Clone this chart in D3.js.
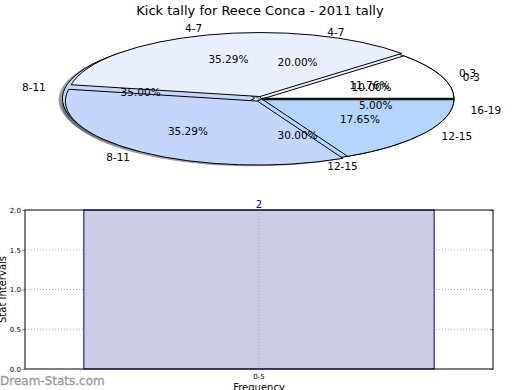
<!DOCTYPE html>
<html>
<head>
<meta charset="utf-8">
<script src="https://cdn.jsdelivr.net/npm/d3@7/dist/d3.min.js"></script>
<style>
  body { margin: 0; background: #fff; }
  text { font-family: "DejaVu Sans", sans-serif; }
</style>
</head>
<body>
<svg id="chart" width="520" height="390"></svg>
<script>
// Kick tally, two pies drawn on top of each other + a one-bar histogram

const chartTitle = "Kick tally for Reece Conca - 2011 tally"

// first pie (drawn on top)
const topLabels = ["0-3", "4-7", "8-11", "12-15"]
const topValues = [11.76, 35.29, 35.29, 17.65]

// second pie (drawn underneath)
const underLabels = ["0-3", "4-7", "8-11", "12-15", "16-19"]
const underValues = [10.00, 20.00, 35.00, 30.00, 5.00]

// histogram
const barCategories = ["0-5"]
const barValues = [2]
const yTicks = [0, 0.5, 1.0, 1.5, 2.0]

const svg = d3.select("#chart")

// ── Pie ──────────────────────────────────────────────
const cx = 262, cy = 99, rx = 192, ry = 64
const explodeBy = 0.04

const sliceColor = d3.scaleOrdinal()
  .domain(["0-3", "4-7", "8-11", "12-15", "16-19"])
  .range(["#ffffff", "#e9effd", "#c5d6fb", "#b4d5fd", "#b4d5fd"])

// matplotlib style : counter-clockwise, starting at 3 o'clock
const pie = d3.pie().sort(null)
  .startAngle(Math.PI / 2)
  .endAngle(Math.PI / 2 - 2 * Math.PI)

const arc = d3.arc().innerRadius(0).outerRadius(rx)

function layout(labels, values, exploded) {
  return pie(values).map((a, i) => {
    const mid = Math.PI / 2 - (a.startAngle + a.endAngle) / 2
    const ex = exploded.includes(labels[i]) ? explodeBy : 0
    return Object.assign(a, {
      label: labels[i],
      mid,
      ex,
      ox: ex * rx * Math.cos(mid),
      oy: -ex * ry * Math.sin(mid)
    })
  })
}

const underArcs = layout(underLabels, underValues, ["8-11"])
const topArcs = layout(topLabels, topValues, ["4-7", "8-11"])

const pieG = svg.append("g")

function wedges(arcs, cls, shadow) {
  const g = pieG.append("g")
    .attr("transform", `translate(${cx + (shadow ? -0.02 * rx : 0)},${cy + (shadow ? 0.02 * ry : 0)}) scale(1,${ry / rx})`)
  g.selectAll("path." + cls).data(arcs).join("path")
    .attr("class", cls)
    .attr("d", arc)
    .attr("transform", d => `translate(${d.ex * rx * Math.cos(d.mid)},${-d.ex * rx * Math.sin(d.mid)})`)
    .attr("fill", d => shadow ? d3.color(sliceColor(d.label)).darker(3.5) : sliceColor(d.label))
    .attr("fill-opacity", shadow ? 0.5 : 1)
    .attr("stroke", shadow ? "none" : "#000")
    .attr("stroke-width", 1)
    .attr("vector-effect", "non-scaling-stroke")
}

// shadows sit under every wedge of both pies
wedges(underArcs, "sh-under", true)
wedges(topArcs, "sh-top", true)
wedges(underArcs, "w-under", false)
wedges(topArcs, "w-top", false)

// the start edge (3 o'clock) where both pies' edges pile up
pieG.append("line")
  .attr("x1", cx).attr("y1", cy)
  .attr("x2", cx + rx).attr("y2", cy)
  .attr("stroke", "#111").attr("stroke-width", 2.5)

function labels(arcs) {
  pieG.append("g").selectAll("text").data(arcs).join("text")
    .attr("x", d => cx + d.ox + 1.1 * rx * Math.cos(d.mid))
    .attr("y", d => cy + d.oy - 1.1 * ry * Math.sin(d.mid))
    .attr("dy", "0.35em")
    .attr("text-anchor", d => Math.cos(d.mid) > 0 ? "start" : "end")
    .attr("font-size", 10.5)
    .text(d => d.label)

  pieG.append("g").selectAll("text").data(arcs).join("text")
    .attr("x", d => cx + d.ox + 0.6 * rx * Math.cos(d.mid))
    .attr("y", d => cy + d.oy - 0.6 * ry * Math.sin(d.mid))
    .attr("dy", "0.35em")
    .attr("text-anchor", "middle")
    .attr("font-size", 10.5)
    .text(d => d3.format(".2f")(d.value) + "%")
}
labels(underArcs)
labels(topArcs)

svg.append("text")
  .attr("x", 260).attr("y", 15)
  .attr("text-anchor", "middle")
  .attr("font-size", 13)
  .text(chartTitle)

// ── Histogram ────────────────────────────────────────
const left = 25, right = 493, plotTop = 210, bottom = 369

const x = d3.scaleBand().domain(barCategories)
  .range([left, right]).paddingInner(0).paddingOuter(0.168)
const y = d3.scaleLinear().domain([0, 2]).range([bottom, plotTop])

const hist = svg.append("g")

// grid
hist.selectAll("line.hgrid").data(yTicks.slice(1, -1)).join("line")
  .attr("x1", left).attr("x2", right)
  .attr("y1", d => y(d)).attr("y2", d => y(d))
  .attr("stroke", "#aaa").attr("stroke-width", 1)
  .attr("stroke-dasharray", "1,2")

hist.selectAll("rect.bar").data(barValues).join("rect")
  .attr("x", (d, i) => x(barCategories[i]))
  .attr("width", x.bandwidth())
  .attr("y", d => y(d))
  .attr("height", d => bottom - y(d))
  .attr("fill", "#ccccE5")
  .attr("stroke", "#000080")
  .attr("stroke-width", 1)

hist.selectAll("line.vgrid").data(barCategories).join("line")
  .attr("x1", d => x(d) + x.bandwidth() / 2).attr("x2", d => x(d) + x.bandwidth() / 2)
  .attr("y1", plotTop).attr("y2", bottom)
  .attr("stroke", "#aaa").attr("stroke-width", 1)
  .attr("stroke-dasharray", "1,2")

// value above the bar
hist.selectAll("text.val").data(barValues).join("text")
  .attr("x", (d, i) => x(barCategories[i]) + x.bandwidth() / 2)
  .attr("y", d => y(d) - 2)
  .attr("text-anchor", "middle")
  .attr("font-size", 10)
  .attr("fill", "#000080")
  .text(d => d)

// axes
const yAxis = d3.axisLeft(y).tickValues(yTicks).tickFormat(d3.format(".1f")).tickSize(3).tickPadding(1)
const yg = hist.append("g").attr("transform", `translate(${left},0)`).call(yAxis)
yg.select(".domain").remove()
yg.selectAll(".tick line").attr("stroke", "#888")
yg.selectAll(".tick text").attr("font-size", 7).attr("font-family", "DejaVu Sans").attr("fill", "#000")

const yAxisR = d3.axisLeft(y).tickValues(yTicks).tickFormat("").tickSize(3)
const yr = hist.append("g").attr("transform", `translate(${right},0)`).call(yAxisR)
yr.select(".domain").remove()
yr.selectAll(".tick line").attr("stroke", "#888")

const xAxis = d3.axisBottom(x).tickSize(0).tickPadding(5)
const xg = hist.append("g").attr("transform", `translate(0,${bottom})`).call(xAxis)
xg.select(".domain").remove()
xg.selectAll(".tick text").attr("font-size", 7).attr("font-family", "DejaVu Sans").attr("fill", "#000")

hist.append("rect")
  .attr("x", left).attr("y", plotTop)
  .attr("width", right - left).attr("height", bottom - plotTop)
  .attr("fill", "none").attr("stroke", "#000").attr("stroke-width", 1)

svg.append("text")
  .attr("transform", `translate(6,${(plotTop + bottom) / 2}) rotate(-90)`)
  .attr("text-anchor", "middle")
  .attr("font-size", 10)
  .text("Stat Intervals")

svg.append("text")
  .attr("x", (left + right) / 2).attr("y", 391)
  .attr("text-anchor", "middle")
  .attr("font-size", 10)
  .text("Frequency")

svg.append("text")
  .attr("x", 0).attr("y", 385)
  .attr("font-size", 12)
  .attr("fill", "#999")
  .attr("stroke", "#999")
  .attr("stroke-width", 0.3)
  .text("Dream-Stats.com")
</script>
</body>
</html>
